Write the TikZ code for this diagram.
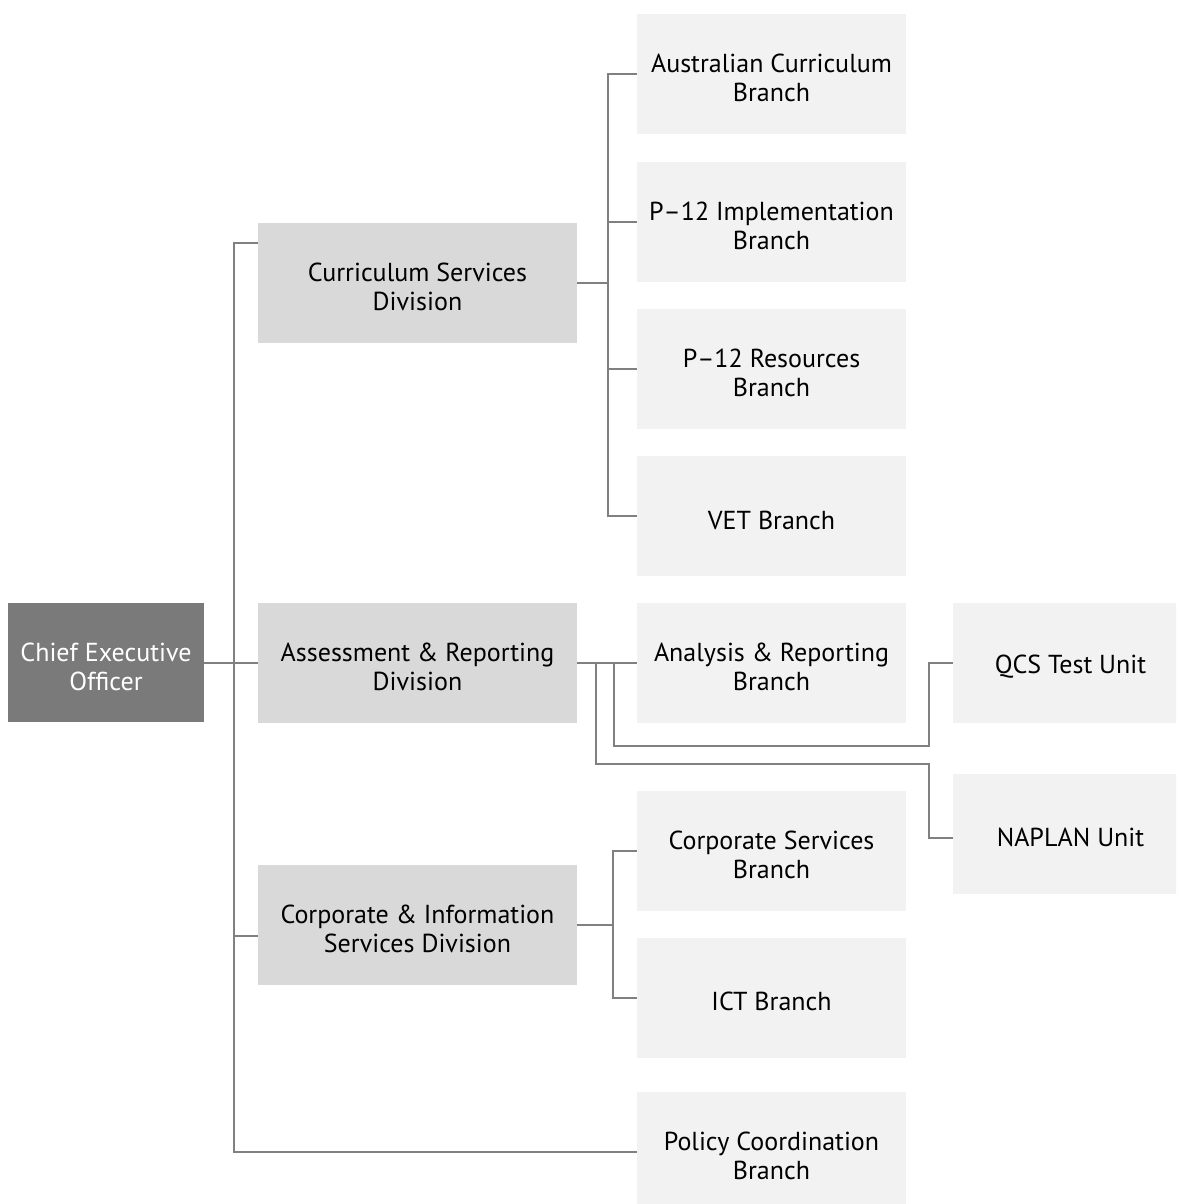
\documentclass[tikz,border=0pt]{standalone}
\usepackage{fontspec}
\setmainfont{PT Sans}
\newcommand{\tup}{\rule{0pt}{26.5pt}}
\begin{document}
\begin{tikzpicture}[x=1pt,y=-1pt,
  conn/.style={draw=linegray,line width=2pt},
  box/.style={inner sep=0pt,align=center,font=\fontsize{26}{29}\selectfont,text=black},
  ceobox/.style={box,fill=ceogray,text=white,minimum width=196pt,minimum height=119pt},
  divbox/.style={box,fill=divgray,minimum width=319pt,minimum height=120pt},
  brbox/.style={box,fill=brgray,minimum width=269pt,minimum height=120pt},
  unitbox/.style={box,fill=brgray,minimum width=235pt,minimum height=120pt}]
\definecolor{linegray}{HTML}{808080}
\definecolor{ceogray}{HTML}{7A7A7A}
\definecolor{divgray}{HTML}{D9D9D9}
\definecolor{brgray}{HTML}{F2F2F2}
\useasboundingbox (0,0) rectangle (1176,1204);
\clip (0,0) rectangle (1176,1204);
\node[ceobox] (ceo) at (106,662.5) {\tup Chief Executive\\Officer};
\node[divbox] (cur) at (417.5,283) {\tup Curriculum Services\\Division};
\node[divbox] (asr) at (417.5,662.5) {\tup Assessment \& Reporting\\Division};
\node[divbox] (cor) at (417.5,924.5) {\tup Corporate \& Information\\Services Division};
\node[brbox] (aus) at (771.5,74) {\tup Australian Curriculum\\Branch};
\node[brbox] (imp) at (771.5,221.5) {\tup P–12 Implementation\\Branch};
\node[brbox] (res) at (771.5,369) {\tup P–12 Resources\\Branch};
\node[brbox] (vet) at (771.5,516) {\tup VET Branch};
\node[brbox] (ana) at (771.5,662.5) {\tup Analysis \& Reporting\\Branch};
\node[brbox] (csb) at (771.5,850.5) {\tup Corporate Services\\Branch};
\node[brbox] (ict) at (771.5,997.5) {\tup ICT Branch};
\node[brbox] (pol) at (771.5,1152) {\tup Policy Coordination\\Branch};
\node[unitbox] (qcs) at (1070.5,662.5) {\tup QCS Test Unit};
\node[unitbox] (nap) at (1070.5,833.5) {\tup NAPLAN Unit};
% CEO trunk
\coordinate (t) at (234,0);
\draw[conn] ([yshift=40pt]cur.west) -| (t |- pol.west) -- (pol.west);
\draw[conn] (ceo.east) -- (asr.west);
\draw[conn] ([yshift=-11.5pt]cor.west) -- ++(-24,0);
% curriculum
\draw[conn] (cur.east) -- ++(31,0) coordinate (cb);
\draw[conn] (aus.west) -| (cb |- vet.west) -- (vet.west);
\draw[conn] (imp.west) -- (cb |- imp.west);
\draw[conn] (res.west) -- (cb |- res.west);
% assessment
\draw[conn] (asr.east) -- (ana.west);
\coordinate (a1) at ([xshift=37pt]asr.east);
\coordinate (a2) at ([xshift=19pt]asr.east);
\draw[conn] (a1) -- ++(0,83) -| ([xshift=-24pt]qcs.west) -- (qcs.west);
\draw[conn] (a2) -- ++(0,101) -| ([xshift=-24pt,yshift=-4.5pt]nap.west) -- ([yshift=-4.5pt]nap.west);
% corporate
\draw[conn] (cor.east) -- ++(36,0) coordinate (cc);
\draw[conn] (csb.west) -| (cc |- ict.west) -- (ict.west);
\end{tikzpicture}
\end{document}
